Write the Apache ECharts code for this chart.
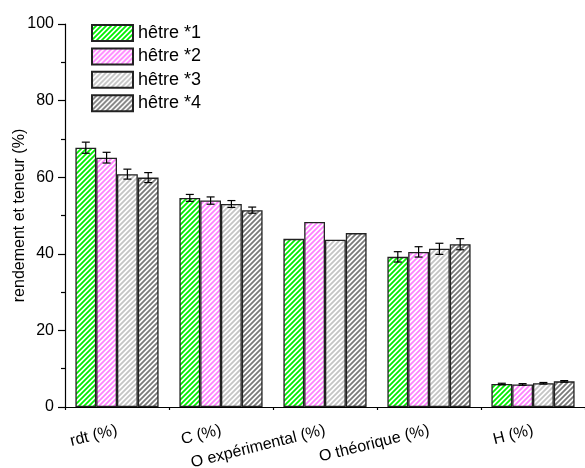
<!DOCTYPE html>
<html>
<head>
<meta charset="utf-8">
<script src="https://cdn.jsdelivr.net/npm/echarts@6/dist/echarts.min.js"></script>
<style>
html,body{margin:0;padding:0;background:#fff;}
#chart{width:585px;height:468px;}
</style>
</head>
<body>
<div id="chart"></div>
<script>
var categories = ['rdt (%)', 'C (%)', 'O expérimental (%)', 'O théorique (%)', 'H (%)'];
var seriesNames = ['hêtre *1', 'hêtre *2', 'hêtre *3', 'hêtre *4'];
var hetre1 = [67.7, 54.6, 43.9, 39.2, 6.0];
var hetre2 = [65.1, 53.9, 48.3, 40.5, 5.9];
var hetre3 = [60.8, 53.0, 43.7, 41.3, 6.2];
var hetre4 = [59.9, 51.4, 45.4, 42.5, 6.7];
var err1 = [1.45, 0.9, null, 1.35, 0.2];
var err2 = [1.4, 0.95, null, 1.35, 0.2];
var err3 = [1.3, 0.9, null, 1.45, 0.2];
var err4 = [1.3, 0.8, null, 1.45, 0.2];
var yTicks = [0, 20, 40, 60, 80, 100];

var values = [hetre1, hetre2, hetre3, hetre4];
var errors = [err1, err2, err3, err4];
var stripeColors = ['#00f000', '#ff80ff', '#c4c4c4', '#7a7a7a'];

function makePattern(color) {
  var c = document.createElement('canvas');
  var s = 5;
  c.width = s; c.height = s;
  var ctx = c.getContext('2d');
  ctx.fillStyle = '#ffffff';
  ctx.fillRect(0, 0, s, s);
  ctx.strokeStyle = color;
  ctx.lineWidth = 1.8;
  ctx.beginPath();
  ctx.moveTo(-1, s + 1); ctx.lineTo(s + 1, -1);
  ctx.moveTo(-1, 1); ctx.lineTo(1, -1);
  ctx.moveTo(s - 1, s + 1); ctx.lineTo(s + 1, s - 1);
  ctx.stroke();
  return c;
}

var FONT = "'Liberation Sans', Arial, sans-serif";
var chart = echarts.init(document.getElementById('chart'), null, {renderer: 'canvas'});

var series = [];
for (var i = 0; i < 4; i++) {
  series.push({
    name: seriesNames[i],
    type: 'bar',
    xAxisIndex: 0, yAxisIndex: 0,
    data: values[i],
    barGap: '0%',
    barCategoryGap: '20%',
    itemStyle: {
      color: {image: makePattern(stripeColors[i]), repeat: 'repeat'},
      borderColor: '#222',
      borderWidth: 1.3
    },
    emphasis: {disabled: true},
    animation: false
  });
}
for (var j = 0; j < 4; j++) {
  (function (idx) {
    var d = [];
    for (var k = 0; k < categories.length; k++) {
      if (errors[idx][k] != null) d.push([k, values[idx][k], errors[idx][k]]);
    }
    series.push({
      type: 'custom',
      xAxisIndex: 0, yAxisIndex: 0,
      data: d,
      z: 10,
      silent: true,
      animation: false,
      encode: {x: 0, y: 1},
      renderItem: function (params, api) {
        var cat = api.value(0), v = api.value(1), e = api.value(2);
        var center = api.coord([cat, v]);
        var band = api.size([1, 0])[0];
        var bw = band * 0.8 / 4;
        var x = center[0] + (idx - 1.5) * bw;
        var yt = api.coord([cat, v + e])[1];
        var yb = api.coord([cat, v - e])[1];
        var hw = 4;
        var st = {stroke: '#000', lineWidth: 1.2};
        return {
          type: 'group',
          children: [
            {type: 'line', shape: {x1: x, y1: yt, x2: x, y2: yb}, style: st},
            {type: 'line', shape: {x1: x - hw, y1: yt, x2: x + hw, y2: yt}, style: st},
            {type: 'line', shape: {x1: x - hw, y1: yb, x2: x + hw, y2: yb}, style: st}
          ]
        };
      }
    });
  })(j);
}

chart.setOption({
  backgroundColor: '#ffffff',
  animation: false,
  textStyle: {fontFamily: FONT},
  legend: {
    orient: 'vertical',
    left: 86, top: 19,
    padding: 5,
    icon: 'rect',
    itemWidth: 41, itemHeight: 16, itemGap: 5.4,
    data: seriesNames,
    textStyle: {fontSize: 18, color: '#000', fontFamily: FONT},
    selectedMode: false
  },
  grid: [
    {left: 65, top: 24, width: 520, height: 383, containLabel: false, outerBoundsMode: 'none'},
    {left: 65, top: 24, width: 520, height: 383, containLabel: false, outerBoundsMode: 'none'}
  ],
  xAxis: [
    {
      type: 'category', gridIndex: 0,
      data: categories,
      axisLine: {lineStyle: {color: '#000', width: 1.2}},
      axisTick: {alignWithLabel: true, length: 6, lineStyle: {color: '#000', width: 1.2}},
      axisLabel: {rotate: 14, margin: 23, fontSize: 16, color: '#000', fontFamily: FONT, interval: 0}
    },
    {
      type: 'value', gridIndex: 1,
      min: 0, max: 5, interval: 1,
      axisLine: {show: false},
      axisTick: {show: true, length: 3, lineStyle: {color: '#000', width: 1.2}},
      axisLabel: {show: false},
      splitLine: {show: false}
    }
  ],
  yAxis: [
    {
      type: 'value', gridIndex: 0,
      min: yTicks[0], max: yTicks[yTicks.length - 1], interval: 20,
      name: 'rendement et teneur (%)',
      nameLocation: 'middle', nameGap: 37, nameMoveOverlap: false,
      nameTextStyle: {fontSize: 16, color: '#000', fontFamily: FONT},
      axisLine: {show: true, lineStyle: {color: '#000', width: 1.2}},
      axisTick: {show: true, length: 7, lineStyle: {color: '#000', width: 1.2}},
      minorTick: {show: true, splitNumber: 2, length: 4, lineStyle: {color: '#000', width: 1.2}},
      axisLabel: {fontSize: 16, color: '#000', margin: 11, fontFamily: FONT},
      splitLine: {show: false}
    },
    {
      type: 'value', gridIndex: 1, min: 0, max: 100,
      show: false
    }
  ],
  series: series
});
</script>
</body>
</html>
